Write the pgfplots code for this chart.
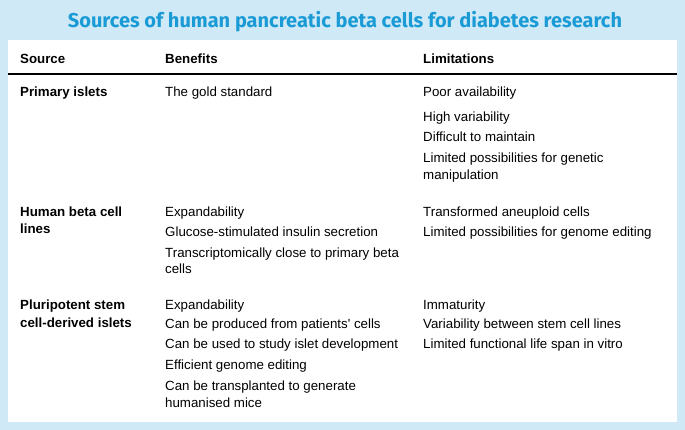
\documentclass[border=0pt]{standalone}
\usepackage{pgfplots}
\pgfplotsset{compat=1.18}
\usepackage{fontspec}
\setmainfont{Liberation Sans}
\newfontfamily\titlefont{Fira Sans}
\definecolor{bgblue}{RGB}{207,233,246}
\definecolor{titleblue}{RGB}{26,155,214}
\begin{document}
\begin{tikzpicture}[
  txt/.style={anchor=base west, inner sep=0pt, font=\fontsize{13.3bp}{15bp}\selectfont},
  hd/.style={txt, font=\fontsize{13.3bp}{15bp}\selectfont\bfseries}]
\begin{axis}[
  width=685bp, height=430bp, scale only axis,
  xmin=0, xmax=685, ymin=0, ymax=430, y dir=reverse,
  axis lines=none, clip=false, ticks=none]
\fill[bgblue] (axis cs:0,0) rectangle (axis cs:685,430);
\fill[white] (axis cs:8,40) rectangle (axis cs:677,422);
\addplot[black, line width=1.2pt, forget plot] coordinates {(8,74) (677,74)};
\node[anchor=center, inner sep=0pt, text=titleblue] at (axis cs:345,22)
  {\resizebox{554bp}{!}{\titlefont\fontsize{22bp}{24bp}\selectfont\bfseries Sources of human pancreatic beta cells for diabetes research}};
% header
\node[hd] at (axis cs:20,63) {Source};
\node[hd] at (axis cs:165,63) {Benefits};
\node[hd] at (axis cs:423,63) {Limitations};
% row 1
\node[hd] at (axis cs:20,96) {Primary islets};
\node[txt] at (axis cs:165,96) {The gold standard};
\node[txt] at (axis cs:423,96) {Poor availability};
\node[txt] at (axis cs:423,121) {High variability};
\node[txt] at (axis cs:423,141) {Difficult to maintain};
\node[txt] at (axis cs:423,162) {Limited possibilities for genetic};
\node[txt] at (axis cs:423,179) {manipulation};
% row 2
\node[hd] at (axis cs:20,216) {Human beta cell};
\node[hd] at (axis cs:20,233) {lines};
\node[txt] at (axis cs:165,216) {Expandability};
\node[txt] at (axis cs:165,236) {Glucose-stimulated insulin secretion};
\node[txt] at (axis cs:165,257) {Transcriptomically close to primary beta};
\node[txt] at (axis cs:165,273) {cells};
\node[txt] at (axis cs:423,216) {Transformed aneuploid cells};
\node[txt] at (axis cs:423,236) {Limited possibilities for genome editing};
% row 3
\node[hd] at (axis cs:20,309) {Pluripotent stem};
\node[hd] at (axis cs:20,327) {cell-derived islets};
\node[txt] at (axis cs:165,309) {Expandability};
\node[txt] at (axis cs:165,328) {Can be produced from patients\textquotesingle\ cells};
\node[txt] at (axis cs:165,348) {Can be used to study islet development};
\node[txt] at (axis cs:165,369) {Efficient genome editing};
\node[txt] at (axis cs:165,390) {Can be transplanted to generate};
\node[txt] at (axis cs:165,407) {humanised mice};
\node[txt] at (axis cs:423,309) {Immaturity};
\node[txt] at (axis cs:423,328) {Variability between stem cell lines};
\node[txt] at (axis cs:423,348) {Limited functional life span in vitro};
\end{axis}
\end{tikzpicture}
\end{document}
